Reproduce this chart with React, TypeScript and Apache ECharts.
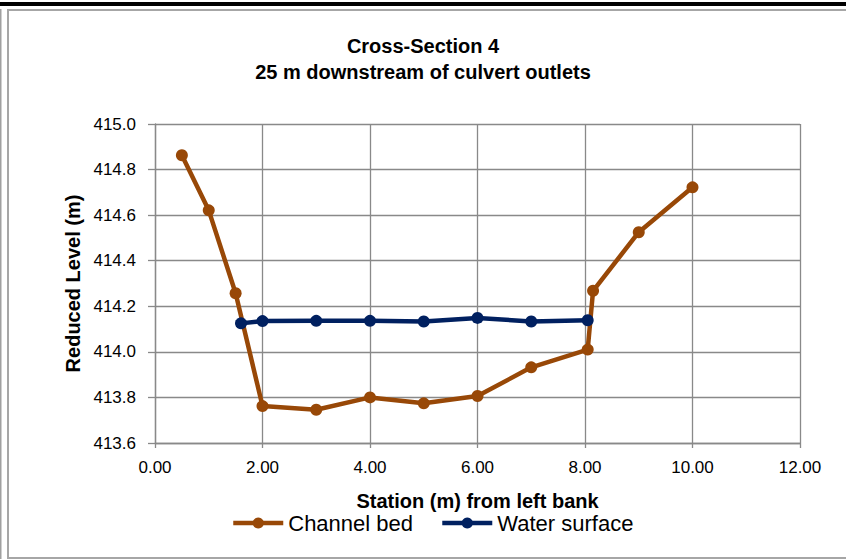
import React, { useEffect, useRef } from "react";
import * as echarts from "echarts";

const titleLines = ["Cross-Section 4", "25 m downstream of culvert outlets"];
const xAxisTitle = "Station (m) from left bank";
const yAxisTitle = "Reduced Level (m)";

const bedStations = [0.5, 1.0, 1.5, 2.0, 3.0, 4.0, 5.0, 6.0, 7.0, 8.05, 8.15, 9.0, 10.0];
const bedLevels = [414.863, 414.621, 414.257, 413.762, 413.746, 413.8, 413.774, 413.806, 413.932, 414.01, 414.268, 414.525, 414.722];

const waterStations = [1.6, 2.0, 3.0, 4.0, 5.0, 6.0, 7.0, 8.05];
const waterLevels = [414.125, 414.135, 414.136, 414.136, 414.133, 414.149, 414.133, 414.139];

const seriesNames = ["Channel bed", "Water surface"];
const seriesColors = ["#984807", "#002060"];

const xMin = 0, xMax = 12, xStep = 2;
const yMin = 413.6, yMax = 415.0, yStep = 0.2;

const FONT = "'Liberation Sans', Arial, sans-serif";

export default function App() {
  const ref = useRef<HTMLDivElement>(null);
  useEffect(() => {
    if (!ref.current) return;
    const chart = echarts.init(ref.current, null, { renderer: "svg" });
    const toPairs = (xs: number[], ys: number[]) => xs.map((x, i) => [x, ys[i]]);
    chart.setOption({
      animation: false,
      backgroundColor: "#ffffff",
      textStyle: { fontFamily: FONT },
      title: {
        text: titleLines.join("\n"),
        left: "center",
        top: 28,
        textStyle: { fontFamily: FONT, fontSize: 20, fontWeight: "bold", color: "#000", lineHeight: 26 },
      },
      graphic: [
        { type: "rect", shape: { x: 0, y: 2, width: 846, height: 4 }, style: { fill: "#000" }, silent: true },
        { type: "line", shape: { x1: 0.75, y1: 9, x2: 0.75, y2: 559 }, style: { stroke: "#a0a0a0", lineWidth: 1.5 }, silent: true },
        { type: "rect", shape: { x: 8, y: 10, width: 900, height: 548 }, style: { fill: "none", stroke: "#a6a6a6", lineWidth: 2 }, silent: true },
      ],
      legend: {
        data: seriesNames,
        left: 231,
        top: 512,
        padding: 0,
        itemWidth: 50,
        itemHeight: 14,
        itemGap: 27,
        lineStyle: { width: 4.5 },
        textStyle: { fontFamily: FONT, fontSize: 22, lineHeight: 22, color: "#000" },
      },
      grid: { left: 155, right: 46, top: 124, bottom: 116, containLabel: false },
      xAxis: {
        type: "value",
        min: xMin,
        max: xMax,
        interval: xStep,
        name: xAxisTitle,
        nameLocation: "middle",
        nameGap: 48,
        nameTextStyle: { fontFamily: FONT, fontSize: 20, lineHeight: 20, fontWeight: "bold", color: "#000" },
        axisLine: { show: true, onZero: false, lineStyle: { color: "#898989", width: 1.3 } },
        axisTick: { show: true, length: 5, lineStyle: { color: "#898989", width: 1.3 } },
        axisLabel: { formatter: (v: number) => v.toFixed(2), fontFamily: FONT, fontSize: 17, color: "#000", margin: 16 },
        splitLine: { show: true, lineStyle: { color: "#898989", width: 1.3 } },
      },
      yAxis: {
        type: "value",
        min: yMin,
        max: yMax,
        interval: yStep,
        name: yAxisTitle,
        nameLocation: "middle",
        nameGap: 71,
        nameTextStyle: { fontFamily: FONT, fontSize: 20, fontWeight: "bold", color: "#000" },
        axisLine: { show: true, lineStyle: { color: "#898989", width: 1.3 } },
        axisTick: { show: true, length: 7, lineStyle: { color: "#898989", width: 1.3 } },
        axisLabel: { formatter: (v: number) => v.toFixed(1), fontFamily: FONT, fontSize: 17, color: "#000", margin: 19 },
        splitLine: { show: true, lineStyle: { color: "#898989", width: 1.3 } },
      },
      series: [
        {
          name: seriesNames[0],
          type: "line",
          data: toPairs(bedStations, bedLevels),
          symbol: "circle",
          symbolSize: 12,
          lineStyle: { color: seriesColors[0], width: 4.5 },
          itemStyle: { color: seriesColors[0] },
          z: 2,
        },
        {
          name: seriesNames[1],
          type: "line",
          data: toPairs(waterStations, waterLevels),
          symbol: "circle",
          symbolSize: 12,
          lineStyle: { color: seriesColors[1], width: 4.5 },
          itemStyle: { color: seriesColors[1] },
          z: 3,
        },
      ],
    });
    return () => chart.dispose();
  }, []);
  return (
    <div style={{ position: "fixed", left: 0, top: 0, width: 846, height: 559, background: "#fff" }}>
      <div ref={ref} style={{ width: 846, height: 559 }} />
    </div>
  );
}
